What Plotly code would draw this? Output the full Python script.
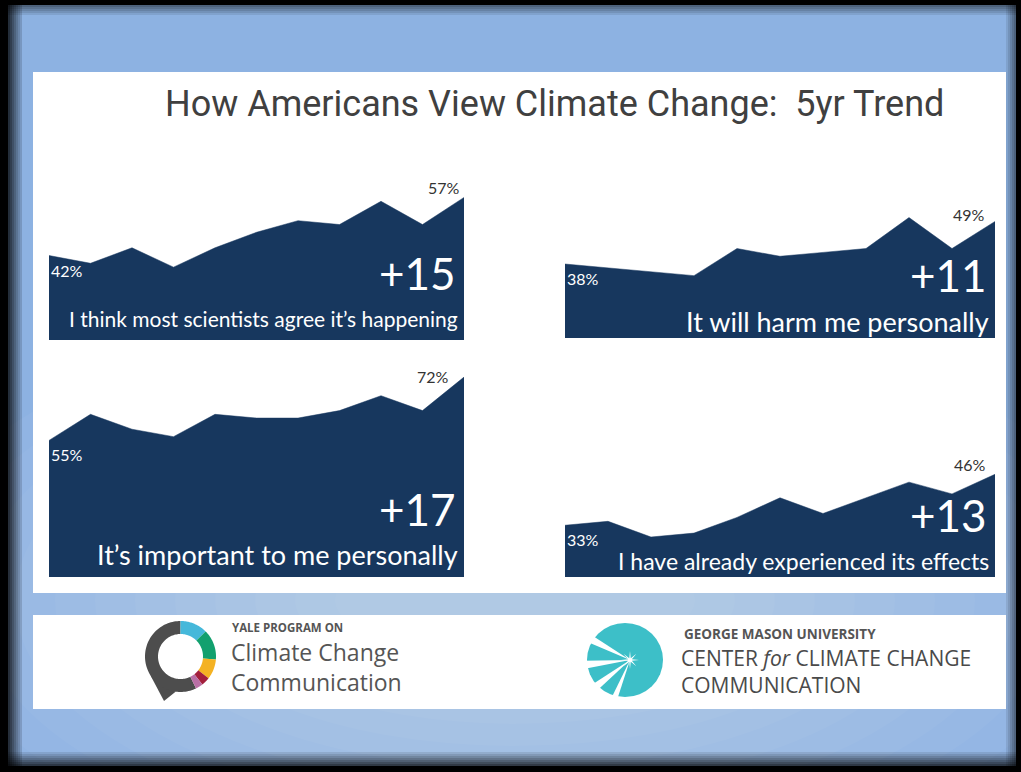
import numpy as np
import plotly.graph_objects as go

W, H = 1021, 772

# Survey waves over the five-year span (11 waves)
waves = ["W1", "W2", "W3", "W4", "W5", "W6", "W7", "W8", "W9", "W10", "W11"]

# Percent of Americans agreeing with each statement, per wave
scientists_agree = [42, 40, 44, 39, 44, 48, 51, 50, 56, 50, 57]
harm_personally = [38, 37, 36, 35, 42, 40, 41, 42, 50, 42, 49]
important_personally = [55, 62, 58, 56, 62, 61, 61, 63, 67, 63, 72]
experienced_effects = [33, 34, 30, 31, 35, 40, 36, 40, 44, 41, 46]

captions = [
    "I think most scientists agree it’s happening",
    "It will harm me personally",
    "It’s important to me personally",
    "I have already experienced its effects",
]
series = [scientists_agree, harm_personally, important_personally, experienced_effects]

NAVY = "#17375E"


def px(x):
    return x / W


def py(y):
    return 1 - y / H


# Panel placement in pixels: x-left, x-right, y-bottom, y-top, axis range,
# caption font size, delta / caption offsets above the bottom, end-label shifts
panel_boxes = [
    dict(x0=49, x1=464, yb=340, yt=180, yr=[20.2, 61.5], cap=21, d_off=67, c_off=22, e_dx=-2, e_dy=-2),
    dict(x0=565, x1=995, yb=338, yt=180, yr=[18.9, 59.7], cap=27, d_off=63, c_off=16, e_dx=-8, e_dy=-5),
    dict(x0=49, x1=464, yb=577, yt=360, yr=[18.3, 76.6], cap=27, d_off=68, c_off=23, e_dx=-13, e_dy=-11),
    dict(x0=565, x1=995, yb=577, yt=450, yr=[19.8, 52.2], cap=23, d_off=62, c_off=16, e_dx=-7, e_dy=-2),
]

fig = go.Figure()
annotations = []
layout_axes = {}

for i, (vals, cap, box) in enumerate(zip(series, captions, panel_boxes)):
    n = i + 1
    xa = "x" if n == 1 else f"x{n}"
    ya = "y" if n == 1 else f"y{n}"
    fig.add_trace(go.Scatter(
        x=list(range(len(waves))), y=vals, mode="lines",
        line=dict(width=0.5, color=NAVY), fill="tozeroy", fillcolor=NAVY,
        xaxis=xa, yaxis=ya, hoverinfo="skip", showlegend=False,
        text=waves,
    ))
    layout_axes["xaxis" if n == 1 else f"xaxis{n}"] = dict(
        domain=[px(box["x0"]), px(box["x1"])], range=[0, len(waves) - 1],
        visible=False, fixedrange=True, anchor=ya,
    )
    layout_axes["yaxis" if n == 1 else f"yaxis{n}"] = dict(
        domain=[py(box["yb"]), py(box["yt"])], range=box["yr"],
        visible=False, fixedrange=True, anchor=xa,
    )
    # first value (white, inside the area)
    annotations.append(dict(
        x=0, y=vals[0], xref=xa, yref=ya, text=f"{vals[0]}%",
        xanchor="left", yanchor="top", xshift=0, yshift=-3, showarrow=False,
        font=dict(family="Lato", size=16, color="white"),
    ))
    # last value (dark, above the area)
    annotations.append(dict(
        x=len(vals) - 1, y=vals[-1], xref=xa, yref=ya, text=f"{vals[-1]}%",
        xanchor="right", yanchor="bottom", xshift=box["e_dx"], yshift=box["e_dy"],
        showarrow=False, font=dict(family="Lato", size=16, color="#333333"),
    ))
    # change over the period
    annotations.append(dict(
        x=px(box["x1"] - 6), y=py(box["yb"] - box["d_off"]), xref="paper", yref="paper",
        text=f"+{vals[-1] - vals[0]}", xanchor="right", yanchor="middle", showarrow=False,
        font=dict(family="Lato", size=44, color="white"),
    ))
    annotations.append(dict(
        x=px(box["x1"] - 4), y=py(box["yb"] - box["c_off"]), xref="paper", yref="paper",
        text=cap, xanchor="right", yanchor="middle", showarrow=False,
        font=dict(family="Lato", size=box["cap"], color="white"),
    ))

# Title
annotations.append(dict(
    x=px(163), y=py(104), xref="paper", yref="paper",
    text="How Americans View Climate Change:  5yr Trend",
    xanchor="left", yanchor="middle", showarrow=False,
    font=dict(family="Roboto", size=36, color="#404040"),
))

# Logo texts
annotations += [
    dict(x=px(230), y=py(627), xref="paper", yref="paper", text="<b>YALE PROGRAM ON</b>",
         xanchor="left", yanchor="middle", showarrow=False,
         font=dict(family="Open Sans", size=11.5, color="#555555")),
    dict(x=px(229), y=py(667), xref="paper", yref="paper",
         text="Climate Change<br>Communication", align="left",
         xanchor="left", yanchor="middle", showarrow=False,
         font=dict(family="Open Sans", size=23, color="#555555")),
    dict(x=px(682), y=py(634), xref="paper", yref="paper", text="<b>GEORGE MASON UNIVERSITY</b>",
         xanchor="left", yanchor="middle", showarrow=False,
         font=dict(family="Open Sans", size=13.5, color="#555555")),
    dict(x=px(679), y=py(671), xref="paper", yref="paper",
         text="CENTER <i>for</i> CLIMATE CHANGE<br>COMMUNICATION", align="left",
         xanchor="left", yanchor="middle", showarrow=False,
         font=dict(family="Open Sans", size=21, color="#4a4a4a")),
]

shapes = []


def rect(x0, y0, x1, y1, color, opacity=1.0):
    shapes.append(dict(type="rect", xref="paper", yref="paper",
                       x0=px(x0), x1=px(x1), y0=py(y1), y1=py(y0),
                       fillcolor=color, opacity=opacity, line=dict(width=0), layer="below"))


def ellipse(cx, cy, rx, ry, color, opacity=1.0):
    shapes.append(dict(type="circle", xref="paper", yref="paper",
                       x0=px(cx - rx), x1=px(cx + rx), y0=py(cy + ry), y1=py(cy - ry),
                       fillcolor=color, opacity=opacity, line=dict(width=0), layer="below"))


def poly(points, color, opacity=1.0):
    d = "M " + " L ".join(f"{px(x):.5f},{py(y):.5f}" for x, y in points) + " Z"
    shapes.append(dict(type="path", xref="paper", yref="paper", path=d,
                       fillcolor=color, opacity=opacity, line=dict(width=0), layer="below"))


def ring_sector(cx, cy, r_out, r_in, a0, a1, color, n=40):
    a = np.radians(np.linspace(a0, a1, n))
    outer = [(cx + r_out * np.cos(t), cy - r_out * np.sin(t)) for t in a]
    inner = [(cx + r_in * np.cos(t), cy - r_in * np.sin(t)) for t in a[::-1]]
    poly(outer + inner, color)


# Blue frame with a soft central highlight
rect(8, 5, 1016, 766, "#8db2e2")
for k in range(12):
    rx = 620 - 40 * k
    ry = 300 - 22 * k
    ellipse(515, 600, rx, ry, "white", 0.035)

# Black outer border
rect(0, 0, W, 5, "black")
rect(0, 766, W, H, "black")
rect(0, 0, 8, H, "black")
rect(1016, 0, W, H, "black")

# Bevel edges
for k in range(7):
    rect(8 + 2 * k, 5, 10 + 2 * k, 766, "black", 0.75 - 0.1 * k)
for k in range(5):
    rect(8, 5 + 2 * k, 1016, 7 + 2 * k, "black", 0.45 - 0.09 * k)
for k in range(5):
    rect(1014 - 2 * k, 5, 1016 - 2 * k, 766, "black", 0.45 - 0.09 * k)
for k in range(7):
    rect(8, 764 - 2 * k, 1016, 766 - 2 * k, "black", 0.7 - 0.1 * k)

# White panels
rect(33, 72, 1006, 593, "white")
rect(33, 615, 1006, 709, "white")

# Yale ring logo
cx, cy, ro, ri = 180.5, 656.5, 35.5, 22.5
poly([(cx + ro * np.cos(np.radians(212)), cy - ro * np.sin(np.radians(212))),
      (164, 701),
      (cx + ro * np.cos(np.radians(262)), cy - ro * np.sin(np.radians(262)))], "#4d4d4d")
ring_sector(cx, cy, ro, ri, -64, -270, "#4d4d4d", n=80)
ring_sector(cx, cy, ro, ri, 90, 45, "#45b8da")
ring_sector(cx, cy, ro, ri, 45, -5, "#12a06e")
ring_sector(cx, cy, ro, ri, -5, -38, "#f4b223")
ring_sector(cx, cy, ro, ri, -38, -52, "#a31f3c")
ring_sector(cx, cy, ro, ri, -52, -64, "#b96fa5")

# George Mason shell logo
gx, gy = 630, 660
ellipse(625, 660, 38, 37, "#3dbfc8")
for ang, half in [(152, 5), (186, 5), (218, 5), (248, 4)]:
    a0, a1 = np.radians(ang - half), np.radians(ang + half)
    poly([(gx, gy),
          (gx + 46 * np.cos(a0), gy - 46 * np.sin(a0)),
          (gx + 46 * np.cos(a1), gy - 46 * np.sin(a1))], "white")
# sparkle
star = []
for k in range(16):
    r = 9 if k % 2 == 0 else 2
    t = np.radians(k * 22.5)
    star.append((gx + r * np.cos(t), gy - r * np.sin(t)))
poly(star, "white")

fig.update_layout(
    width=W, height=H,
    margin=dict(l=0, r=0, t=0, b=0),
    paper_bgcolor="#000000",
    plot_bgcolor="rgba(0,0,0,0)",
    showlegend=False,
    shapes=shapes,
    annotations=annotations,
    **layout_axes,
)

fig.write_html("out.html", config={"displayModeBar": False})
